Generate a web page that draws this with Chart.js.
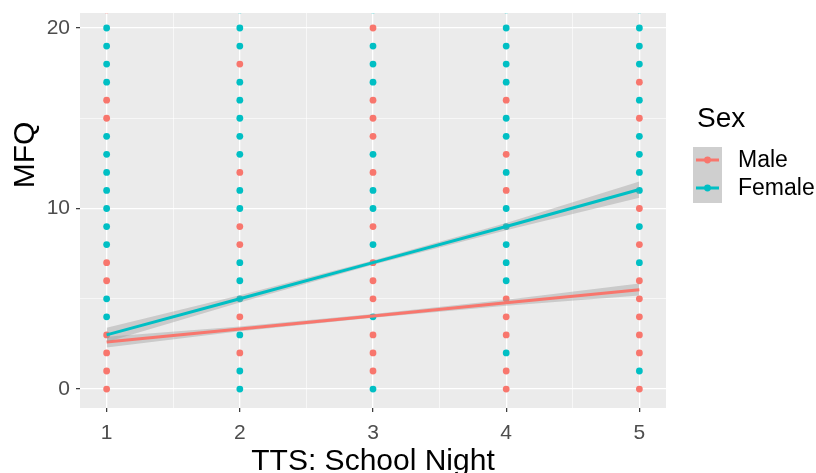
<!DOCTYPE html>
<html>
<head>
<meta charset="utf-8">
<title>MFQ by TTS: School Night</title>
<script src="https://cdn.jsdelivr.net/npm/chart.js@4/dist/chart.umd.min.js"></script>
<style>
  html, body { margin: 0; padding: 0; background: #fff; }
  #wrap { position: relative; width: 816px; height: 473px; }
</style>
</head>
<body>
<div id="wrap"><canvas id="mfqchart" width="816" height="473"></canvas></div>
<script>
'use strict';

// TTS: School Night levels
const ttsLevels = [1, 2, 3, 4, 5];

// MFQ values whose dot shows on top, per TTS level
const maleMfq = [
  [0, 1, 2, 3, 6, 7, 15, 16, 21],
  [2, 4, 8, 9, 12, 18],
  [1, 2, 3, 5, 6, 7, 9, 12, 14, 15, 16, 20],
  [0, 1, 3, 4, 5, 11, 13, 16],
  [0, 2, 3, 4, 5, 6, 8, 10, 15, 17]
];
const femaleMfq = [
  [4, 5, 8, 9, 10, 11, 12, 13, 14, 17, 18, 19, 20],
  [0, 1, 3, 5, 6, 7, 10, 11, 13, 14, 15, 16, 17, 19, 20, 21],
  [0, 4, 8, 10, 11, 13, 17, 18, 19, 21],
  [2, 6, 7, 8, 9, 10, 12, 14, 15, 17, 18, 19, 20, 21],
  [1, 7, 9, 11, 12, 13, 14, 16, 18, 19, 20, 21]
];

// lm fits with confidence band, read at each level
const maleFit   = [2.6, 3.33, 4.05, 4.78, 5.5];
const maleUpper = [2.9, 3.47, 4.15, 4.95, 5.85];
const maleLower = [2.3, 3.2, 3.95, 4.62, 5.18];
const femaleFit   = [3.0, 5.0, 7.0, 9.0, 11.05];
const femaleUpper = [3.4, 5.2, 7.12, 9.2, 11.5];
const femaleLower = [2.6, 4.8, 6.88, 8.8, 10.6];

// axes
const xMajor = [1, 2, 3, 4, 5];
const xMinor = [1.5, 2.5, 3.5, 4.5];
const xTickLabels = ['1', '2', '3', '4', '5'];
const yMajor = [0, 10, 20];
const yMinor = [5, 15];
const yTickLabels = ['0', '10', '20'];

const MALE = '#F8766D';
const FEMALE = '#00BFC4';
const BAND = 'rgba(153,153,153,0.4)';
const FONT = '"Liberation Sans", Arial, sans-serif';

const dots = (levels, lists) => {
  const out = [];
  lists.forEach((vals, i) => vals.forEach(v => out.push({ x: levels[i], y: v })));
  return out;
};
const curve = vals => vals.map((v, i) => ({ x: ttsLevels[i], y: v }));

const bandSet = (vals, fill, order) => ({
  type: 'line',
  data: curve(vals),
  borderWidth: 0,
  pointRadius: 0,
  backgroundColor: BAND,
  fill,
  order
});
const fitSet = (vals, color, order) => ({
  type: 'line',
  data: curve(vals),
  borderColor: color,
  borderWidth: 3,
  pointRadius: 0,
  fill: false,
  tension: 0,
  order
});

const panelBg = {
  id: 'panelBg',
  beforeDraw(chart) {
    const { ctx, chartArea: a } = chart;
    ctx.save();
    ctx.fillStyle = '#EBEBEB';
    ctx.fillRect(a.left, a.top, a.right - a.left, a.bottom - a.top);
    ctx.restore();
  }
};

const titlesAndLegend = {
  id: 'titlesAndLegend',
  afterDraw(chart) {
    const { ctx, chartArea: a } = chart;
    ctx.save();
    ctx.fillStyle = '#000';
    ctx.textBaseline = 'alphabetic';

    // axis titles
    ctx.font = '30px ' + FONT;
    ctx.textAlign = 'center';
    ctx.fillText('TTS: School Night', (a.left + a.right) / 2, 470);
    ctx.save();
    ctx.translate(34, 155);
    ctx.rotate(-Math.PI / 2);
    ctx.fillText('MFQ', 0, 0);
    ctx.restore();

    // legend
    ctx.textAlign = 'left';
    ctx.font = '28px ' + FONT;
    ctx.fillText('Sex', 697, 127);
    ctx.fillStyle = '#CFCFCF';
    ctx.fillRect(693, 147, 29, 56);
    [['Male', MALE, 160], ['Female', FEMALE, 188]].forEach(([label, color, y]) => {
      ctx.strokeStyle = color;
      ctx.lineWidth = 3;
      ctx.beginPath();
      ctx.moveTo(696, y);
      ctx.lineTo(719, y);
      ctx.stroke();
      ctx.fillStyle = color;
      ctx.beginPath();
      ctx.arc(707.5, y, 3.4, 0, Math.PI * 2);
      ctx.fill();
      ctx.fillStyle = '#000';
      ctx.font = '23px ' + FONT;
      ctx.textBaseline = 'middle';
      ctx.fillText(label, 738, y + 1);
    });
    ctx.restore();
  }
};

const isMajor = (list, v) => list.some(m => Math.abs(m - v) < 1e-6);
const gridOpts = major => ({
  color: '#FFFFFF',
  lineWidth: ctx => (ctx.tick && isMajor(major, ctx.tick.value) ? 1.3 : 0.6),
  tickColor: ctx => (ctx.tick && isMajor(major, ctx.tick.value) ? '#333333' : 'rgba(0,0,0,0)'),
  tickWidth: 1.2,
  tickLength: 4,
  drawOnChartArea: true
});

new Chart(document.getElementById('mfqchart').getContext('2d'), {
  type: 'scatter',
  data: {
    datasets: [
      { label: 'Male', data: dots(ttsLevels, maleMfq), backgroundColor: MALE, pointRadius: 3.4, borderWidth: 0, order: 10 },
      { label: 'Female', data: dots(ttsLevels, femaleMfq), backgroundColor: FEMALE, pointRadius: 3.4, borderWidth: 0, order: 9 },
      bandSet(maleUpper, '+1', 6),
      bandSet(maleLower, false, 6),
      fitSet(maleFit, MALE, 5),
      bandSet(femaleUpper, '+1', 4),
      bandSet(femaleLower, false, 4),
      fitSet(femaleFit, FEMALE, 3)
    ]
  },
  options: {
    responsive: false,
    animation: false,
    clip: 0,
    layout: { padding: { top: 13, right: 150, left: 0, bottom: 0 } },
    plugins: { legend: { display: false }, tooltip: { enabled: false } },
    scales: {
      x: {
        type: 'linear',
        min: 0.8,
        max: 5.2,
        afterBuildTicks: s => { s.ticks = xMajor.concat(xMinor).sort((p, q) => p - q).map(v => ({ value: v })); },
        afterFit: s => { s.height = 65; s.paddingLeft = 0; s.paddingRight = 0; },
        border: { display: false },
        grid: gridOpts(xMajor),
        ticks: {
          autoSkip: false,
          maxRotation: 0,
          padding: 9,
          color: '#4D4D4D',
          font: { family: FONT, size: 21 },
          callback: v => (isMajor(xMajor, v) ? xTickLabels[xMajor.findIndex(m => Math.abs(m - v) < 1e-6)] : '')
        }
      },
      y: {
        type: 'linear',
        min: -1.05,
        max: 20.83,
        afterBuildTicks: s => { s.ticks = yMajor.concat(yMinor).sort((p, q) => p - q).map(v => ({ value: v })); },
        afterFit: s => { s.width = 80; s.paddingTop = 0; s.paddingBottom = 0; },
        border: { display: false },
        grid: gridOpts(yMajor),
        ticks: {
          autoSkip: false,
          padding: 6,
          color: '#4D4D4D',
          font: { family: FONT, size: 21 },
          callback: v => (isMajor(yMajor, v) ? yTickLabels[yMajor.findIndex(m => Math.abs(m - v) < 1e-6)] : '')
        }
      }
    }
  },
  plugins: [panelBg, titlesAndLegend]
});
</script>
</body>
</html>
